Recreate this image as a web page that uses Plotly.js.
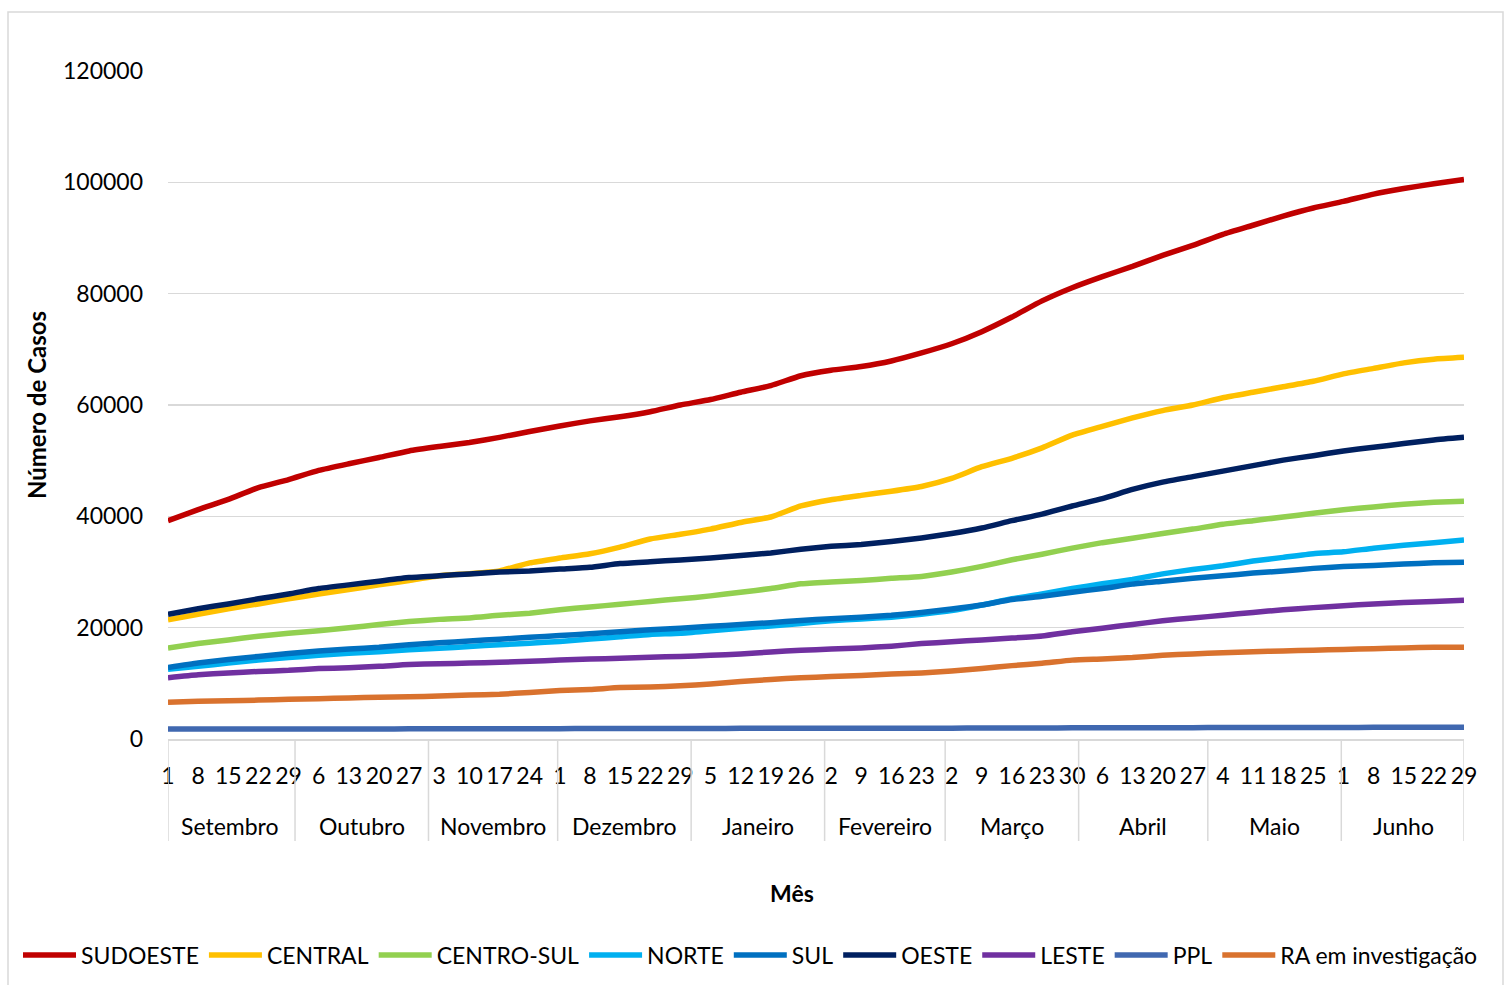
<!DOCTYPE html>
<html><head><meta charset="utf-8">
<script src="https://cdn.plot.ly/plotly-3.0.1.min.js"></script>
<style>html,body{margin:0;padding:0;background:#fff}#chart{width:1505px;height:985px}</style>
</head><body><div id="chart"></div>
<script>
// Weekly sample dates (Tuesdays), 2020-09-01 .. 2021-06-29
const dates = ['2020-09-01','2020-09-08','2020-09-15','2020-09-22','2020-09-29',
  '2020-10-06','2020-10-13','2020-10-20','2020-10-27',
  '2020-11-03','2020-11-10','2020-11-17','2020-11-24',
  '2020-12-01','2020-12-08','2020-12-15','2020-12-22','2020-12-29',
  '2021-01-05','2021-01-12','2021-01-19','2021-01-26',
  '2021-02-02','2021-02-09','2021-02-16','2021-02-23',
  '2021-03-02','2021-03-09','2021-03-16','2021-03-23','2021-03-30',
  '2021-04-06','2021-04-13','2021-04-20','2021-04-27',
  '2021-05-04','2021-05-11','2021-05-18','2021-05-25',
  '2021-06-01','2021-06-08','2021-06-15','2021-06-22','2021-06-29'];
const dayLabels = ['1','8','15','22','29','6','13','20','27','3','10','17','24',
  '1','8','15','22','29','5','12','19','26','2','9','16','23',
  '2','9','16','23','30','6','13','20','27','4','11','18','25',
  '1','8','15','22','29'];
const months = ['Setembro','Outubro','Novembro','Dezembro','Janeiro','Fevereiro','Março','Abril','Maio','Junho'];
const monthStarts = ['2020-09-01','2020-10-01','2020-11-01','2020-12-01','2021-01-01','2021-02-01','2021-03-01','2021-04-01','2021-05-01','2021-06-01'];
const monthEnds = ['2020-09-30','2020-10-31','2020-11-30','2020-12-31','2021-01-31','2021-02-28','2021-03-31','2021-04-30','2021-05-31','2021-06-29'];

const seriesNames = ['SUDOESTE','CENTRAL','CENTRO-SUL','NORTE','SUL','OESTE','LESTE','PPL','RA em investigação'];

const SUDOESTE = [39220,41200,43050,45150,46600,48250,49440,50560,51750,52540,53260,54190,55240,56230,57150,57880,58800,59990,60980,62300,63480,65260,66250,66910,67900,69350,71000,73170,75800,78700,81070,83060,84900,86880,88660,90640,92290,93940,95390,96570,97890,98880,99740,100530];
const CENTRAL = [21420,22400,23400,24260,25180,26040,26830,27690,28480,29330,29700,30200,31640,32500,33290,34480,35930,36780,37710,38890,39880,41860,42980,43770,44500,45350,46800,48910,50430,52300,54580,56160,57680,59000,59990,61310,62300,63280,64270,65590,66580,67570,68230,68560];
const CENTRO_SUL = [16350,17140,17800,18460,18980,19450,19970,20570,21100,21490,21750,22220,22610,23200,23730,24190,24720,25180,25710,26370,27030,27880,28210,28480,28870,29200,29990,31000,32200,33200,34280,35270,36060,36920,37710,38570,39220,39880,40540,41200,41660,42190,42520,42720];
const NORTE = [12520,13050,13650,14170,14630,15030,15420,15690,16020,16280,16610,16940,17210,17530,17950,18350,18790,18990,19450,19910,20300,20760,21230,21560,21890,22410,23070,24060,25180,26040,27030,27880,28680,29660,30450,31110,31970,32630,33290,33620,34280,34810,35270,35730];
const SUL = [12850,13650,14300,14830,15360,15820,16150,16480,16940,17270,17600,17930,18260,18590,18900,19250,19640,19910,20240,20570,20900,21290,21620,21890,22220,22740,23340,24060,25050,25650,26370,27030,27820,28350,28870,29330,29800,30190,30650,30980,31180,31440,31640,31770];
const OESTE = [22410,23400,24260,25180,26040,27030,27690,28350,29000,29330,29660,30000,30190,30520,30850,31510,31840,32170,32500,32960,33420,34080,34610,34940,35470,36120,36920,37900,39220,40400,41860,43180,44830,46140,47130,48120,49110,50100,50890,51750,52410,53070,53730,54190];
const LESTE = [11010,11540,11870,12130,12330,12660,12790,13050,13380,13510,13650,13780,13980,14170,14370,14500,14700,14830,15030,15290,15620,15950,16150,16350,16680,17140,17470,17800,18130,18500,19250,19910,20570,21230,21750,22220,22740,23200,23600,23930,24260,24520,24720,24920];
const PPL = [1780,1785,1790,1795,1800,1805,1810,1815,1820,1825,1830,1840,1850,1860,1870,1880,1890,1900,1905,1910,1915,1920,1925,1930,1935,1940,1950,1960,1970,1985,2000,2010,2020,2030,2040,2050,2060,2070,2080,2085,2090,2095,2100,2110];
const RA = [6590,6790,6860,6990,7120,7250,7380,7510,7580,7710,7910,8040,8370,8700,8900,9230,9360,9560,9890,10350,10680,11010,11210,11400,11670,11870,12200,12660,13180,13600,14170,14370,14630,15030,15290,15490,15690,15820,15950,16090,16220,16350,16480,16480];

const seriesValues = [SUDOESTE, CENTRAL, CENTRO_SUL, NORTE, SUL, OESTE, LESTE, PPL, RA];
const colors = ['#C00000','#FFC000','#92D050','#00B0F0','#0070C0','#002060','#7030A0','#4068B0','#D9722E'];

const FONT = 'Lato, sans-serif';

const traces = seriesNames.map((n,i)=>({
  type:'scatter', mode:'lines', name:n, x:dates, y:seriesValues[i],
  line:{color:colors[i], width:5.5, shape:'spline', smoothing:0.5}, hoverinfo:'x+y+name'
}));

// geometry helpers (plot area: x 168..1464, y 71..739)
const L=168, R=1464, T=71, B=739, W=R-L, H=B-T;
const px = v => (v-L)/W;
const py = v => (B-v)/H;

function toStr(ms){ return new Date(ms).toISOString().replace('T',' ').slice(0,19); }
function ms(d){ return Date.parse(d+'T00:00:00Z'); }
const HALF = 12*3600*1000;

const shapes = [];
const gray = '#D9D9D9';
// month dividers
shapes.push({type:'line', xref:'x', yref:'paper', x0:dates[0], x1:dates[0], y0:0, y1:py(841), line:{color:gray,width:1.5}});
for(let i=1;i<months.length;i++){
  const xv = toStr(ms(monthStarts[i]) - HALF);
  shapes.push({type:'line', xref:'x', yref:'paper', x0:xv, x1:xv, y0:0, y1:py(841), line:{color:gray,width:1.5}});
}
shapes.push({type:'line', xref:'x', yref:'paper', x0:dates[dates.length-1], x1:dates[dates.length-1], y0:0, y1:py(841), line:{color:gray,width:1.5}});
// chart border
shapes.push({type:'rect', xref:'paper', yref:'paper', x0:px(8), x1:px(1503), y0:py(12), y1:py(992), line:{color:gray,width:1.5}, fillcolor:'rgba(0,0,0,0)'});

const annotations = months.map((m,i)=>({
  xref:'x', yref:'paper', x: toStr((ms(monthStarts[i]) + ms(monthEnds[i]))/2),
  y: py(826), yanchor:'middle', xanchor:'center', text:m, showarrow:false,
  font:{family:FONT, size:23, color:'#000'}
}));
// x-axis title (placed like the reference, centred on the chart area)
annotations.push({xref:'paper', yref:'paper', x:px(792), y:py(893), xanchor:'center', yanchor:'middle',
  text:'<b>Mês</b>', showarrow:false, font:{family:FONT, size:23, color:'#000'}});

const layout = {
  width:1505, height:985,
  margin:{l:L, r:1505-R, t:T, b:985-B, pad:0, autoexpand:false},
  paper_bgcolor:'#fff', plot_bgcolor:'#fff',
  font:{family:FONT, size:23, color:'#000'},
  showlegend:true,
  legend:{orientation:'h', x:px(18), xanchor:'left', y:py(955), yanchor:'middle',
    font:{family:FONT, size:23, color:'#000'}, itemwidth:53, tracegroupgap:0, bgcolor:'rgba(0,0,0,0)'},
  xaxis:{
    type:'date', range:[dates[0], dates[dates.length-1]],
    tickmode:'array', tickvals:dates, ticktext:dayLabels,
    ticks:'', showgrid:false, zeroline:false,
    showline:true, linecolor:gray, linewidth:1.5,
    tickfont:{family:FONT, size:23, color:'#000'},
    ticklabelstandoff:16, tickangle:0,
    automargin:false
  },
  yaxis:{
    range:[0,120000], tickmode:'linear', tick0:0, dtick:20000,
    tickformat:'d', ticks:'', showgrid:true, gridcolor:gray, gridwidth:1.5,
    zeroline:false, showline:false,
    tickfont:{family:FONT, size:23, color:'#000'},
    ticklabelstandoff:24,
    title:{text:'<b>Número de Casos</b>', standoff:9, font:{family:FONT, size:24, color:'#000'}},
    automargin:false
  },
  shapes:shapes, annotations:annotations
};

Plotly.newPlot('chart', traces, layout, {displayModeBar:false, staticPlot:true});
</script>
</body></html>
